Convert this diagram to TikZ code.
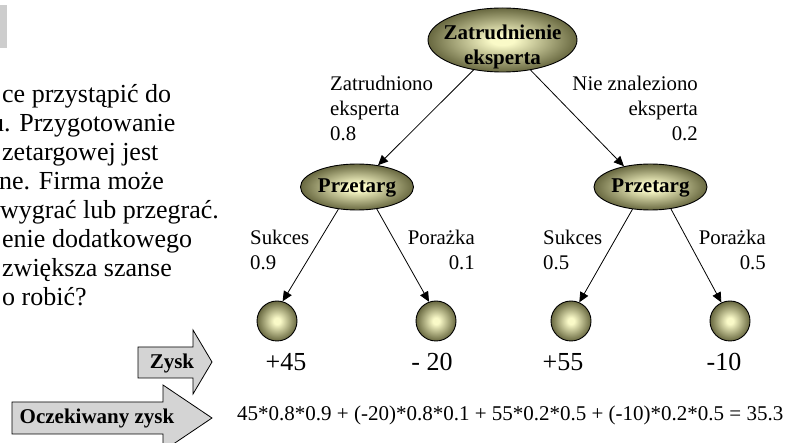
\documentclass[tikz,border=0pt]{standalone}
\usepackage{fontspec}
\setmainfont{Liberation Serif}
\usetikzlibrary{shapes.geometric,arrows.meta}
\definecolor{ballin}{RGB}{250,250,200}
\definecolor{ballout}{RGB}{104,104,64}
\definecolor{arrowgray}{RGB}{212,212,212}
\definecolor{titlegray}{RGB}{205,205,205}
\pgfdeclareradialshading{ballshade}{\pgfpoint{0bp}{0bp}}{color(0bp)=(ballin); color(4bp)=(ballin); color(25bp)=(ballout); color(50bp)=(ballout)}
\tikzset{
  decision/.style={ellipse, draw=black, line width=0.9pt, shading=ballshade, inner sep=0pt},
  leaf/.style={circle, draw=black, line width=0.9pt, shading=ballshade, minimum size=40pt, inner sep=0pt},
  edge/.style={draw=black, line width=0.8pt, -{Triangle[length=10pt,width=9pt]}},
  boldtxt/.style={font=\fontsize{21}{25}\selectfont\bfseries, inner sep=0pt},
  lbl/.style={font=\fontsize{20.8}{25}\selectfont, inner sep=0pt},
  para/.style={font=\fontsize{26}{29}\selectfont, inner sep=0pt, anchor=base west},
  val/.style={font=\fontsize{26}{30}\selectfont, inner sep=0pt},
  blockarrow/.style={fill=arrowgray, draw=black, line width=0.8pt, line join=miter}
}
\begin{document}
\begin{tikzpicture}[x=1pt,y=-1pt]
\useasboundingbox (0,0) rectangle (788,443);
\clip (0,0) rectangle (788,443);
% title bar remnant
\fill[titlegray] (0,5) rectangle (7,48);
% paragraph fragments
\node[para] (t1) at (2,103) {ce przystąpić do};
\node[para] (t2) at (-9,132) {u. Przygotowanie};
\node[para] (t3) at (2,161) {zetargowej jest};
\node[para] (t4) at (-1,190) {ne. Firma może};
\node[para] (t5) at (0,219) {wygrać lub przegrać.};
\node[para] (t6) at (2,248) {enie dodatkowego};
\node[para] (t7) at (2,277) {zwiększa szanse};
\node[para] (t8) at (2,306) {o robić?};
% tree nodes
\node[decision, minimum width=149pt, minimum height=64pt] (root) at (502.5,40) {};
\node[boldtxt, align=center] (roottxt) at (502.5,47) {\strut Zatrudnienie\\\strut eksperta};
\node[decision, minimum width=113pt, minimum height=46pt] (pl) at (357,187) {};
\node[boldtxt] (pltxt) at (357,188) {\strut Przetarg};
\node[decision, minimum width=113pt, minimum height=46pt] (pr) at (650.5,187) {};
\node[boldtxt] (prtxt) at (650.5,188) {\strut Przetarg};
\node[leaf] (l1) at (277,321) {};
\node[leaf] (l2) at (436,321) {};
\node[leaf] (l3) at (571,321) {};
\node[leaf] (l4) at (730,321) {};
% connectors
\draw[edge] (root.226) -- (pl.46);
\draw[edge] (root.313) -- (pr.142);
\draw[edge] (pl.230) -- (l1.74);
\draw[edge] (pl.312) -- (l2.110);
\draw[edge] (pr.231) -- (l3.66);
\draw[edge] (pr.313) -- (l4.115);
% edge labels
\node[lbl, align=left, anchor=west] (e1) at (330,111) {\strut Zatrudniono\\\strut eksperta\\\strut 0.8};
\node[lbl, align=right, anchor=east] (e2) at (698,111) {\strut Nie znaleziono\\\strut eksperta\\\strut 0.2};
\node[lbl, align=left, anchor=west] (e3) at (250,252) {\strut Sukces\\\strut 0.9};
\node[lbl, align=right, anchor=east] (e4) at (475,252) {\strut Porażka\\\strut 0.1};
\node[lbl, align=left, anchor=west] (e5) at (543,252) {\strut Sukces\\\strut 0.5};
\node[lbl, align=right, anchor=east] (e6) at (766,252) {\strut Porażka\\\strut 0.5};
% leaf values
\node[val] (v1) at (286,362) {+45};
\node[val] (v2) at (432,362) {- 20};
\node[val] (v3) at (563,362) {+55};
\node[val] (v4) at (724,362) {-10};
% block arrows
\draw[blockarrow] (138,347) -- (193,347) -- (193,330) -- (212,362) -- (193,394) -- (193,378) -- (138,378) -- cycle;
\node[boldtxt] (zysk) at (172,363) {Zysk};
\draw[blockarrow] (12,402) -- (163,402) -- (163,385) -- (212,418) -- (163,451) -- (163,434) -- (12,434) -- cycle;
\node[boldtxt] (ozysk) at (97,418) {Oczekiwany zysk};
% formula
\node[font=\fontsize{21}{26}\selectfont, inner sep=0pt, anchor=west] (formula) at (237,415) {45*0.8*0.9 + (-20)*0.8*0.1 + 55*0.2*0.5 + (-10)*0.2*0.5 = 35.3};
\end{tikzpicture}
\end{document}
